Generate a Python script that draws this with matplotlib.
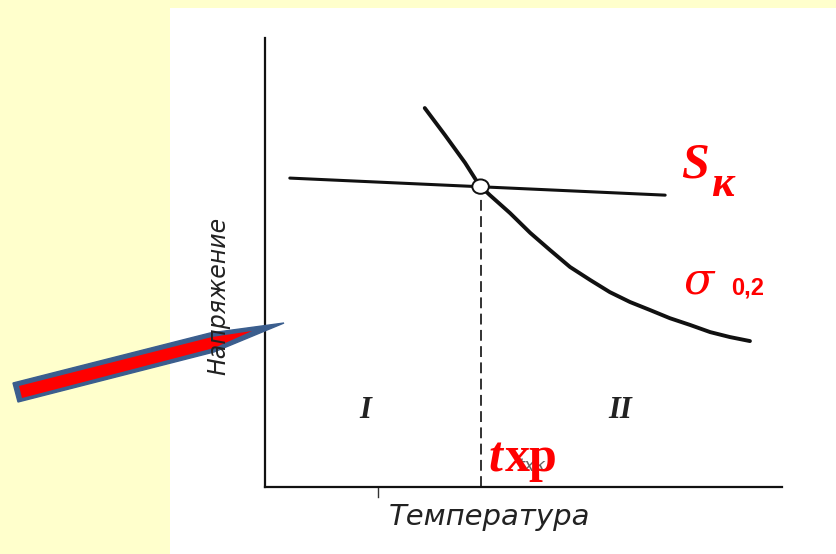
import matplotlib.pyplot as plt
from matplotlib.patches import Rectangle, Polygon, Circle

# stress vs temperature: brittle fracture stress S_k and yield stress sigma_0.2
sk_temp = [4.8, 77.4]
sk_stress = [68.8, 65.0]

sigma_temp = [30.9, 34.8, 38.7, 41.4, 43.5, 47.4, 51.3, 55.1, 59.0, 62.9,
              66.7, 70.6, 74.5, 78.3, 82.2, 86.1, 89.9, 93.8]
sigma_stress = [84.4, 78.4, 72.2, 67.3, 65.0, 61.0, 56.6, 52.8, 49.0, 46.1,
                43.4, 41.2, 39.4, 37.6, 36.1, 34.5, 33.4, 32.5]

t_xp = 41.7          # cold-brittleness temperature
t_xp_stress = 66.9

W, H = 837, 554
fig = plt.figure(figsize=(W / 100, H / 100), dpi=100, facecolor='#FFFFCC')

# white sheet behind the diagram
bg = fig.add_axes([0, 0, 1, 1], zorder=-5)
bg.set_xlim(0, W)
bg.set_ylim(H, 0)
bg.axis('off')
bg.add_patch(Rectangle((170, 8), W - 170, H - 8, facecolor='white', edgecolor='none'))

ax = fig.add_axes([265 / W, (H - 487) / H, 517 / W, 449 / H], zorder=1)
ax.set_facecolor('none')
ax.set_xlim(0, 100)
ax.set_ylim(0, 100)
for side in ['top', 'right']:
    ax.spines[side].set_visible(False)
for side in ['left', 'bottom']:
    ax.spines[side].set_linewidth(1.6)
    ax.spines[side].set_color('#111111')
ax.set_xticks([])
ax.set_yticks([])

ax.plot(sk_temp, sk_stress, color='#111111', lw=2.2, solid_capstyle='round')
ax.plot(sigma_temp, sigma_stress, color='#111111', lw=2.8,
        solid_capstyle='round', solid_joinstyle='round')
ax.plot([t_xp, t_xp], [0, t_xp_stress - 2], color='#222222', lw=1.3, ls=(0, (6, 3)))
ax.add_patch(Circle((t_xp, t_xp_stress), 1.6, facecolor='white',
                    edgecolor='#111111', lw=1.4, zorder=5))
# small tick under the temperature axis
ax.plot([21.9, 21.9], [0, -2.2], color='#333333', lw=1.0, clip_on=False)

# overlay in pixel units for labels and the pointer arrow
ov = fig.add_axes([0, 0, 1, 1], zorder=10)
ov.set_xlim(0, W)
ov.set_ylim(H, 0)
ov.axis('off')
ov.set_facecolor('none')

ov.text(218, 296, 'Напряжение', rotation=90, ha='center', va='center',
        fontsize=17, style='italic', color='#222222', family='DejaVu Sans')
ov.text(490, 517, 'Температура', ha='center', va='center',
        fontsize=21, style='italic', color='#222222', family='DejaVu Sans')
ov.text(365, 410, 'I', ha='center', va='center', fontsize=22, style='italic',
        weight='bold', color='#222222', family='Liberation Serif')
ov.text(620, 410, 'II', ha='center', va='center', fontsize=22, style='italic',
        weight='bold', color='#222222', family='Liberation Serif')
ov.text(518, 471, 'tхк', ha='left', va='baseline', fontsize=13, style='italic',
        color='#666666', family='DejaVu Sans')

ov.text(488, 471, 't', ha='left', va='baseline', fontsize=36, style='italic',
        weight='bold', color='red', family='Liberation Serif')
ov.text(505, 471, 'хр', ha='left', va='baseline', fontsize=36,
        weight='bold', color='red', family='Liberation Serif')

ov.text(681, 177, 'S', ha='left', va='baseline', fontsize=36, style='italic',
        weight='bold', color='red', family='Liberation Serif')
ov.text(711, 196, 'к', ha='left', va='baseline', fontsize=32, style='italic',
        weight='bold', color='red', family='Liberation Serif')

ov.text(684, 294, 'σ', ha='left', va='baseline', fontsize=32, style='italic',
        color='red', family='DejaVu Serif')
ov.text(731, 294, '0,2', ha='left', va='baseline', fontsize=17,
        weight='bold', color='red', family='Liberation Sans')

# pointer arrow toward the stress axis
ov.add_patch(Polygon([(13, 383), (210, 333), (284, 323), (214, 352), (18, 402)],
                     closed=True, facecolor='#3B5E8E', edgecolor='#3B5E8E', lw=1))
ov.add_patch(Polygon([(19, 386), (212, 337), (252, 331), (214, 348), (22, 398)],
                     closed=True, facecolor='red', edgecolor='none'))

fig.savefig('out.png', dpi=100, facecolor=fig.get_facecolor())
